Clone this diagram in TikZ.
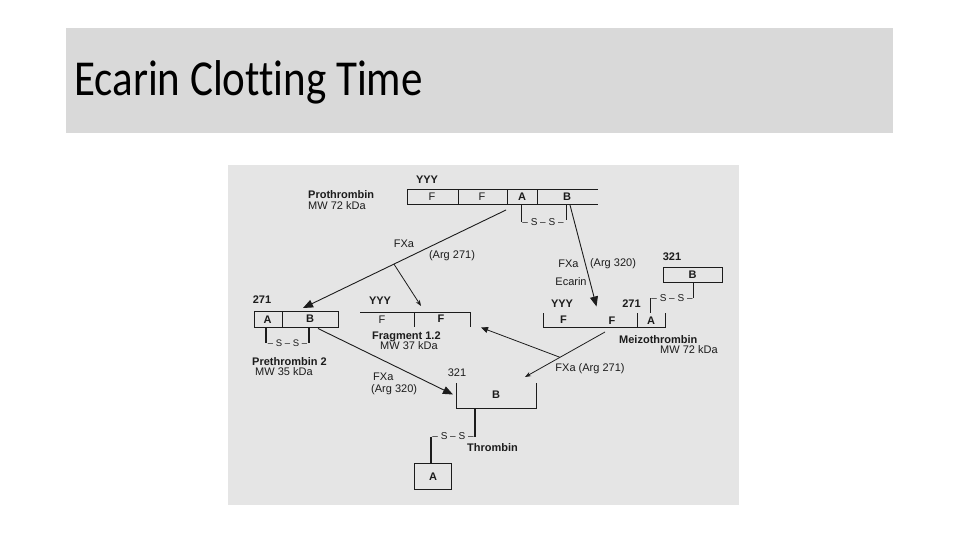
\documentclass[tikz,border=0pt]{standalone}
\usepackage{fontspec}
\setmainfont{Liberation Sans}
\newfontfamily\titlefont[Ligatures={NoCommon}]{Carlito}
\usetikzlibrary{arrows.meta,calc}
\definecolor{band}{HTML}{D9D9D9}
\definecolor{panel}{HTML}{E5E5E5}
\definecolor{ink}{HTML}{1C1C1C}
\begin{document}
\begin{tikzpicture}[x=1pt,y=-1pt,
  lbl/.style={font=\fontsize{11}{12}\selectfont, text=ink, inner sep=0pt},
  blbl/.style={font=\fontsize{11}{12}\selectfont\bfseries, text=ink, inner sep=0pt},
  bridge/.style={font=\fontsize{10}{12}\selectfont, text=ink, inner sep=0pt},
  bar/.style={draw=ink, line width=0.9pt},
  bondline/.style={draw=ink, line width=2.4pt},
  bigarrow/.style={draw=ink, line width=0.9pt, -{Triangle[length=10pt,width=8pt]}},
  midarrow/.style={draw=ink, line width=0.8pt, -{Triangle[length=7pt,width=6pt]}},
  smallarrow/.style={draw=ink, line width=0.8pt, -{Stealth[length=6pt,width=4.5pt]}}]
\useasboundingbox (0,0) rectangle (960,540);
\fill[white] (0,0) rectangle (960,540);
% title band
\fill[band] (66,28) rectangle (893,133);
\node[anchor=base west, inner sep=0pt] (title) at (74,96)
  {\titlefont\fontsize{43}{50}\selectfont\scalebox{1}[1.17]{Ecarin Clotting Time}};
% panel
\fill[panel] (228,165) rectangle (739,505);

% ---------- Prothrombin ----------
\draw[bar] (598,189) -- (407,189) -- (407,204) -- (598,204);
\draw[bar] (458,189) -- (458,204);
\draw[bar] (507,189) -- (507,204);
\draw[bar] (537,189) -- (537,204);
\node[blbl] (pyyy) at (427,180) {YYY};
\node[lbl] (pf1) at (432,196.5) {F};
\node[lbl] (pf2) at (482,196.5) {F};
\node[blbl] (pa) at (522,197) {A};
\node[blbl] (pb) at (567,197) {B};
\draw[bar, line width=0.8pt] (521,204) -- (521,222);
\draw[bar, line width=0.8pt] (566,204) -- (566,220);
\node[bridge] (pss) at (543,222.5) {– S – S –};
\node[blbl, anchor=west] (pname) at (308,195) {Prothrombin};
\node[lbl, anchor=west] (pmw) at (308,206) {MW 72 kDa};

% ---------- Prethrombin 2 ----------
\draw[bar] (254,311) rectangle (338,327);
\draw[bar] (282,311) -- (282,327);
\node[blbl] (p2num) at (262,300) {271};
\node[blbl] (p2a) at (267.5,319.5) {A};
\node[blbl] (p2b) at (310,319) {B};
\draw[bondline] (266,327) -- (266,343);
\draw[bondline] (309,327) -- (309,343);
\node[bridge, font=\fontsize{9.5}{11}\selectfont] (p2ss) at (287.5,343) {– S – S –};
\node[blbl, anchor=west] (p2name) at (252,362) {Prethrombin 2};
\node[lbl, anchor=west] (p2mw) at (255,371.5) {MW 35 kDa};

% ---------- Fragment 1.2 ----------
\draw[bar] (360,312) -- (470,312) -- (470,327);
\draw[bar] (414,312) -- (414,327);
\node[blbl] (fyyy) at (380,301) {YYY};
\node[lbl] (ff1) at (382,320) {F};
\node[blbl] (ff2) at (441,319) {F};
\node[blbl, anchor=west] (fname) at (372,337) {Fragment 1.2};
\node[lbl, anchor=west] (fmw) at (380,346) {MW 37 kDa};

% ---------- Meizothrombin ----------
\draw[bar] (543,313) -- (543,327) -- (665,327) -- (665,313);
\draw[bar] (637.5,313) -- (637.5,327);
\draw[bar] (650.5,298) -- (650.5,313);
\node[blbl] (myyy) at (562,303.5) {YYY};
\node[blbl] (mnum) at (631.5,303.5) {271};
\node[blbl] (mf1) at (563.5,320) {F};
\node[blbl] (mf2) at (612,321) {F};
\node[blbl] (ma) at (651,321) {A};
\node[bridge] (mss) at (672,298.5) {– S – S –};
\draw[bar] (693.5,282) -- (693.5,297.5);
\draw[bar] (663,267.5) rectangle (722,282);
\node[blbl] (mb) at (692.5,275) {B};
\node[blbl] (mbnum) at (672,257) {321};
\node[blbl, anchor=west] (mname) at (619,340) {Meizothrombin};
\node[lbl, anchor=west] (mmw) at (660,350) {MW 72 kDa};

% ---------- Thrombin ----------
\draw[bar] (456,383) -- (456,408.5) -- (536,408.5) -- (536,383);
\node[lbl] (tnum) at (457,373) {321};
\node[blbl] (tb) at (496,395) {B};
\draw[bondline] (475,408.5) -- (475,436.5);
\node[bridge] (tss) at (453,436.5) {– S – S –};
\draw[bondline] (431,436.5) -- (431,463.5);
\draw[bar] (414,463.5) rectangle (451.5,489);
\node[blbl] (ta) at (433,477) {A};
\node[blbl, anchor=west] (tname) at (467,448) {Thrombin};

% ---------- connectors ----------
\coordinate (a1s) at (506,210);
\coordinate (a1e) at (303,308);
\draw[bigarrow] (a1s) -- (a1e);
\coordinate (b1) at ($(a1s)!0.552!(a1e)$);
\coordinate (f1e) at (421,306);
\draw[smallarrow] (b1) -- (f1e);
\node[lbl] (fxa1) at (404,244) {FXa};
\node[lbl] (arg1) at (452,256) {(Arg 271)};

\coordinate (a2s) at (318,328.5);
\coordinate (a2e) at (453,394.5);
\draw[bigarrow] (a2s) -- (a2e);
\node[lbl, anchor=west] (fxa2) at (373,377) {FXa};
\node[lbl, anchor=west] (arg2) at (371,389.5) {(Arg 320)};

\coordinate (a3s) at (570,205);
\coordinate (a3e) at (596.5,306.5);
\draw[bigarrow] (a3s) -- (a3e);
\node[lbl] (fxa3) at (568.5,264) {FXa};
\node[lbl] (arg3) at (613,264) {(Arg 320)};
\node[lbl] (ecarin) at (571,282) {Ecarin};

\coordinate (a4s) at (605,332);
\coordinate (a4e) at (525,377);
\draw[smallarrow] (a4s) -- (a4e);
\coordinate (b4) at ($(a4s)!0.5625!(a4e)$);
\coordinate (a5e) at (481,327.5);
\draw[midarrow] (b4) -- (a5e);
\node[lbl] (fxa4) at (590,369) {FXa (Arg 271)};
\end{tikzpicture}
\end{document}
